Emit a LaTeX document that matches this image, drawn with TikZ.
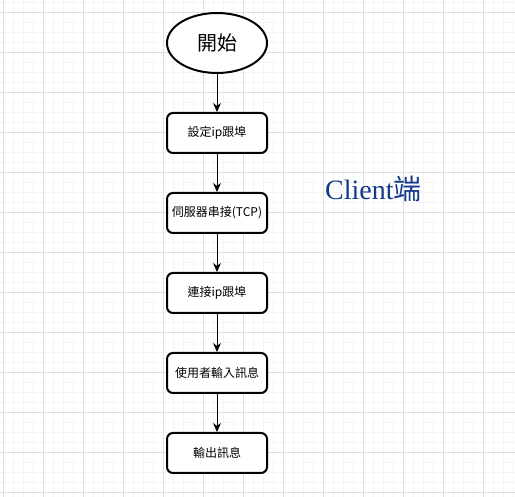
\documentclass[tikz,border=0pt]{standalone}
\usepackage{fontspec}
\newfontfamily\cjk{Noto Sans CJK TC}
\newfontfamily\serifcl{Liberation Serif}
\usetikzlibrary{arrows.meta,shapes.geometric}
\definecolor{gridminor}{HTML}{F5F5F5}
\definecolor{gridmajor}{HTML}{DEDEDE}
\definecolor{clientblue}{HTML}{153A8C}
\tikzset{
  stepbox/.style={draw=black, line width=2pt, rounded corners=6pt, minimum width=100pt, minimum height=40pt, inner sep=0pt, font=\cjk\fontsize{12}{14}\selectfont, fill=white},
  startnode/.style={draw=black, line width=2pt, ellipse, minimum width=100pt, minimum height=60pt, inner sep=0pt, font=\cjk\fontsize{20}{24}\selectfont, fill=white},
  flow/.style={draw=black, line width=1pt, -{Stealth[length=9pt,width=8pt,inset=3pt]}}
}
\begin{document}
\begin{tikzpicture}[x=1pt,y=-1pt]
\useasboundingbox (0,0) rectangle (515,497);
\fill[white] (0,0) rectangle (515,497);
\foreach \i in {0,...,51} {
  \draw[gridminor, line width=1pt] ({3+10*\i},0) -- ({3+10*\i},497);
}
\foreach \j in {0,...,49} {
  \draw[gridminor, line width=1pt] (0,{3+10*\j}) -- (515,{3+10*\j});
}
\foreach \i in {0,...,12} {
  \draw[gridmajor, line width=1pt] ({3+40*\i},0) -- ({3+40*\i},497);
}
\foreach \j in {0,...,12} {
  \draw[gridmajor, line width=1pt] (0,{13+40*\j}) -- (515,{13+40*\j});
}
\node[startnode] (start) at (217,43) {開始};
\node[stepbox] (b1) at (217,133) {設定ip跟埠};
\node[stepbox] (b2) at (217,213) {伺服器串接(TCP)};
\node[stepbox] (b3) at (217,293) {連接ip跟埠};
\node[stepbox] (b4) at (217,373) {使用者輸入訊息};
\node[stepbox] (b5) at (217,453) {輸出訊息};
\node[anchor=base west, inner sep=0pt, text=clientblue, font=\fontsize{28}{32}\selectfont] (client) at (325,200) {\serifcl Client\cjk 端};
\draw[flow] (start) -- (b1);
\draw[flow] (b1) -- (b2);
\draw[flow] (b2) -- (b3);
\draw[flow] (b3) -- (b4);
\draw[flow] (b4) -- (b5);
\end{tikzpicture}
\end{document}
